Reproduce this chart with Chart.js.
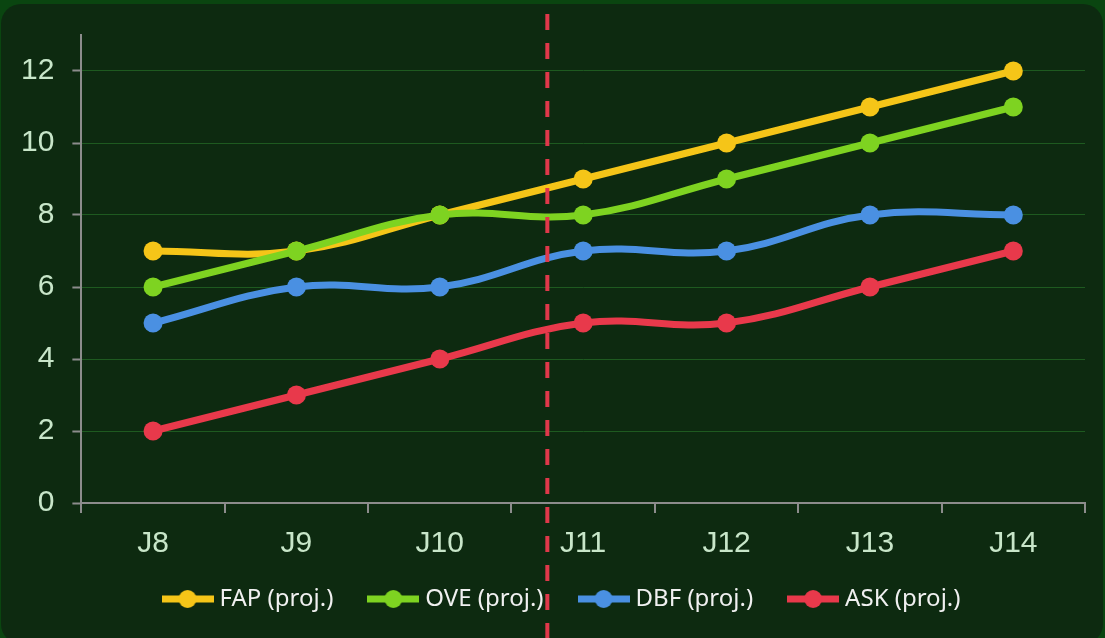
<!DOCTYPE html>
<html>
<head>
<meta charset="utf-8">
<script src="https://cdn.jsdelivr.net/npm/chart.js@4.4.1/dist/chart.umd.min.js"></script>
<style>
  html, body { margin: 0; padding: 0; background: #0a4510; width: 1105px; height: 638px; overflow: hidden; }
  .panel {
    position: absolute; left: 1px; top: 4px; width: 1102px; height: 640px;
    background: #0d2a10; border-radius: 20px; overflow: hidden;
  }
</style>
</head>
<body>
<div class="panel"><canvas id="myChart"></canvas></div>
<script>
const weeks = ["J8", "J9", "J10", "J11", "J12", "J13", "J14"];
const fap = [7, 7, 8, 9, 10, 11, 12];
const ove = [6, 7, 8, 8, 9, 10, 11];
const dbf = [5, 6, 6, 7, 7, 8, 8];
const ask = [2, 3, 4, 5, 5, 6, 7];
const seriesNames = ["FAP (proj.)", "OVE (proj.)", "DBF (proj.)", "ASK (proj.)"];
const seriesColors = ["#f5c518", "#7ed321", "#4a90e2", "#e8394b"];
const yTicksMax = 12;
const markerIndex = 2.75; // dashed divider between J10 and J11

// little line + dot picture for the legend
function legendMark(color) {
  const c = document.createElement("canvas");
  c.width = 52;
  c.height = 20;
  const ctx = c.getContext("2d");
  ctx.strokeStyle = color;
  ctx.lineWidth = 7;
  ctx.beginPath();
  ctx.moveTo(0, 10);
  ctx.lineTo(52, 10);
  ctx.stroke();
  ctx.fillStyle = color;
  ctx.beginPath();
  ctx.arc(26, 10, 9, 0, Math.PI * 2);
  ctx.fill();
  return c;
}

const makeSet = (i, values, order) => ({
  label: seriesNames[i],
  data: values,
  borderColor: seriesColors[i],
  backgroundColor: seriesColors[i],
  borderWidth: 7,
  pointRadius: 9.5,
  pointHoverRadius: 9.5,
  pointBorderWidth: 0,
  tension: 0.4,
  pointStyle: "circle",
  legendStyle: legendMark(seriesColors[i]),
  order: order,
});

const dividerLine = {
  id: "dividerLine",
  afterDraw(chart) {
    const ctx = chart.ctx;
    const x = chart.scales.x.getPixelForValue(markerIndex);
    ctx.save();
    ctx.strokeStyle = "#e0384a";
    ctx.lineWidth = 4;
    ctx.setLineDash([16, 13]);
    ctx.beginPath();
    ctx.moveTo(x, 10);
    ctx.lineTo(x, chart.height);
    ctx.stroke();
    ctx.restore();
  },
};

// layout tweaks: legend a bit to the right, x labels not clipped
const layoutTweak = {
  id: "layoutTweak",
  afterLayout(chart) {
    if (chart.legend) {
      chart.legend.left += 20;
      chart.legend.right += 20;
    }
    chart.scales.x.bottom += 30;
  },
};

const data = {
  labels: weeks,
  datasets: [
    makeSet(0, fap, 2),
    makeSet(1, ove, 1),
    makeSet(2, dbf, 1),
    makeSet(3, ask, 1),
  ],
};

const config = {
  type: "line",
  data: data,
  plugins: [dividerLine, layoutTweak],
  options: {
    responsive: true,
    maintainAspectRatio: false,
    animation: false,
    layout: {
      padding: { left: 2, right: 18, top: 31, bottom: 23 },
    },
    scales: {
      x: {
        offset: true,
        afterFit: (scale) => {
          scale.height -= 28;
        },
        grid: {
          display: true,
          offset: true,
          drawOnChartArea: false,
          color: "#8c8c8c",
          tickLength: 10,
          lineWidth: 2,
        },
        border: { color: "#8c8c8c", width: 2 },
        ticks: {
          color: "#c8e6c9",
          font: { family: "Liberation Sans", size: 30 },
          padding: 13,
        },
      },
      y: {
        min: 0,
        max: 13,
        afterBuildTicks: (scale) => {
          scale.ticks = scale.ticks.filter((t) => t.value <= yTicksMax);
        },
        afterFit: (scale) => {
          scale.paddingTop = 0;
          scale.paddingBottom = 0;
        },
        grid: {
          color: "#1e5a20",
          lineWidth: 1,
          tickColor: "#8c8c8c",
          tickWidth: 2,
          tickLength: 9,
        },
        border: { color: "#8c8c8c", width: 2 },
        ticks: {
          stepSize: 2,
          color: "#c8e6c9",
          font: { family: "Liberation Sans", size: 30 },
          padding: 18,
        },
      },
    },
    plugins: {
      legend: {
        position: "bottom",
        labels: {
          usePointStyle: true,
          pointStyleWidth: 40,
          boxHeight: 20,
          padding: 40,
          color: "#f0f0f0",
          font: { family: "Noto Sans", size: 24 },
          generateLabels: (chart) =>
            chart.data.datasets.map((ds, i) => ({
              text: ds.label,
              fillStyle: ds.borderColor,
              strokeStyle: ds.borderColor,
              lineWidth: 0,
              pointStyle: ds.legendStyle,
              fontColor: "#f0f0f0",
              hidden: false,
              datasetIndex: i,
            })),
        },
      },
      tooltip: { enabled: false },
    },
  },
};

const myChart = new Chart(document.getElementById("myChart"), config);
</script>
</body>
</html>
